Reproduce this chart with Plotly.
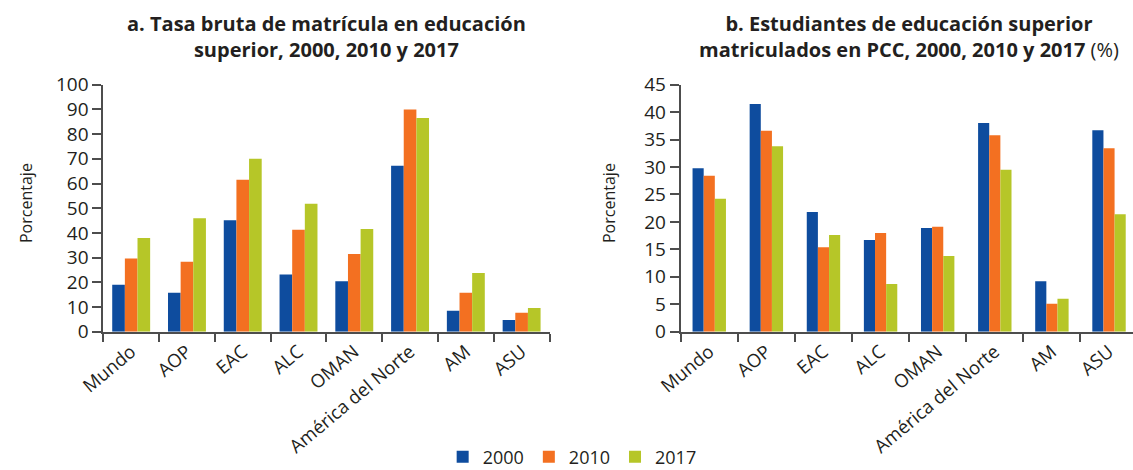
import plotly.graph_objects as go

categories = ["Mundo", "AOP", "EAC", "ALC", "OMAN", "América del Norte", "AM", "ASU"]
years = ["2000", "2010", "2017"]
colors = ["#0E4C9E", "#F37021", "#B6C628"]

# Panel a: Tasa bruta de matrícula en educación superior (%)
tasa_2000 = [19.0, 15.8, 45.1, 23.2, 20.4, 67.2, 8.5, 4.7]
tasa_2010 = [29.6, 28.3, 61.5, 41.3, 31.5, 90.0, 15.8, 7.7]
tasa_2017 = [37.9, 45.9, 70.0, 51.8, 41.6, 86.5, 23.8, 9.6]

# Panel b: Estudiantes matriculados en PCC (%)
pcc_2000 = [29.8, 41.5, 21.8, 16.7, 18.9, 38.0, 9.2, 36.7]
pcc_2010 = [28.4, 36.6, 15.4, 18.0, 19.1, 35.8, 5.1, 33.4]
pcc_2017 = [24.2, 33.8, 17.6, 8.7, 13.8, 29.5, 6.0, 21.4]

title_a = "<b>a. Tasa bruta de matrícula en educación<br>superior, 2000, 2010 y 2017</b>"
title_b = "<b>b. Estudiantes de educación superior<br>matriculados en PCC, 2000, 2010 y 2017</b> (%)"
ytitle = "Porcentaje"

W, H = 1133, 470
FONT = "Open Sans"
TXT = "#231F20"
AX = "#4D4D4D"

GROUP_A = 0.68
GROUP_B = 0.585

fig = go.Figure()
for i, (yr, col, va, vb) in enumerate(zip(years, colors, [tasa_2000, tasa_2010, tasa_2017],
                                          [pcc_2000, pcc_2010, pcc_2017])):
    wa = GROUP_A / 3
    wb = GROUP_B / 3
    fig.add_trace(go.Bar(x=categories, y=va, name=yr, marker=dict(color=col, line=dict(width=0)),
                         width=wa, offset=-GROUP_A / 2 + i * wa,
                         xaxis="x", yaxis="y", legendgroup=yr, showlegend=True))
    fig.add_trace(go.Bar(x=categories, y=vb, name=yr, marker=dict(color=col, line=dict(width=0)),
                         width=wb, offset=-GROUP_B / 2 + i * wb,
                         xaxis="x2", yaxis="y2", legendgroup=yr, showlegend=False))

def px_x(p):
    return p / W

def px_y(p):
    return (H - p) / H

y_dom = [px_y(331.7), px_y(84.7)]

common_x = dict(type="category", showline=True, linecolor=AX, linewidth=2, ticks="outside",
                tickson="boundaries", ticklen=8, tickwidth=2, tickcolor=AX, tickangle=-40,
                showgrid=False, zeroline=False, automargin=False,
                tickfont=dict(family=FONT, size=18.5, color=TXT))
common_y = dict(showline=True, linecolor=AX, linewidth=2, ticks="outside", ticklen=9, tickwidth=2,
                tickcolor=AX, showgrid=False, zeroline=False, automargin=False,
                tickfont=dict(family=FONT, size=19, color=TXT))

fig.update_layout(
    width=W, height=H,
    margin=dict(l=0, r=0, t=0, b=0, autoexpand=False),
    paper_bgcolor="white", plot_bgcolor="white",
    barmode="overlay",
    xaxis=dict(domain=[px_x(103.3), px_x(549.5)], anchor="y", range=[-0.5, 7.5], **common_x),
    yaxis=dict(domain=y_dom, anchor="x", range=[0, 100], dtick=10, **common_y),
    xaxis2=dict(domain=[px_x(680.7), 1.0], anchor="y2", range=[-0.5, 7.42], **common_x),
    yaxis2=dict(domain=y_dom, anchor="x2", range=[0, 45], dtick=5, **common_y),
    legend=dict(orientation="h", x=0.505, xanchor="center", y=-0.012, yanchor="bottom",
                font=dict(family=FONT, size=18, color=TXT), traceorder="normal",
                itemclick=False, itemdoubleclick=False, borderwidth=0),
    font=dict(family=FONT, color=TXT),
    annotations=[
        dict(text=title_a, x=px_x(326), y=px_y(37), xref="paper", yref="paper", showarrow=False,
             xanchor="center", yanchor="middle", align="center",
             font=dict(family=FONT, size=20, color=TXT)),
        dict(text=title_b, x=px_x(909), y=px_y(37), xref="paper", yref="paper", showarrow=False,
             xanchor="center", yanchor="middle", align="center",
             font=dict(family=FONT, size=20, color=TXT)),
        dict(text=ytitle, x=px_x(26), y=px_y(203), xref="paper", yref="paper", showarrow=False,
             textangle=-90, xanchor="center", yanchor="middle",
             font=dict(family=FONT, size=16, color=TXT)),
        dict(text=ytitle, x=px_x(609), y=px_y(203), xref="paper", yref="paper", showarrow=False,
             textangle=-90, xanchor="center", yanchor="middle",
             font=dict(family=FONT, size=16, color=TXT)),
    ],
)

fig.write_html("out.html", config={"displayModeBar": False},
               post_script="document.body.style.margin='0';document.body.style.overflow='hidden';")
